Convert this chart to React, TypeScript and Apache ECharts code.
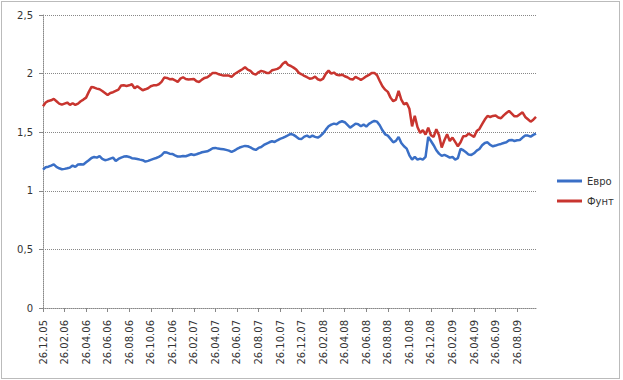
import React, { useEffect, useRef } from "react";
import * as echarts from "echarts";

// Axis tick labels (every 8th category)
const tickLabels: string[] = [
  "26.12.05", "26.02.06", "26.04.06", "26.06.06", "26.08.06", "26.10.06",
  "26.12.06", "26.02.07", "26.04.07", "26.06.07", "26.08.07", "26.10.07",
  "26.12.07", "26.02.08", "26.04.08", "26.06.08", "26.08.08", "26.10.08",
  "26.12.08", "26.02.09", "26.04.09", "26.06.09", "26.08.09",
];

const seriesNames: string[] = ["Евро", "Фунт"];
const yTicks: number[] = [0, 0.5, 1, 1.5, 2, 2.5];

const euro: number[] = [
  1.181, 1.201, 1.206, 1.215, 1.226, 1.204, 1.192, 1.184, 1.187, 1.192, 1.198, 1.215,
  1.204, 1.224, 1.226, 1.224, 1.243, 1.261, 1.280, 1.289, 1.283, 1.295, 1.272, 1.261,
  1.266, 1.275, 1.283, 1.255, 1.272, 1.283, 1.292, 1.295, 1.289, 1.278, 1.275, 1.272,
  1.266, 1.261, 1.249, 1.255, 1.264, 1.272, 1.280, 1.289, 1.303, 1.329, 1.326, 1.317,
  1.315, 1.303, 1.292, 1.292, 1.297, 1.295, 1.303, 1.312, 1.306, 1.312, 1.320, 1.329,
  1.334, 1.337, 1.349, 1.363, 1.366, 1.360, 1.357, 1.354, 1.349, 1.343, 1.332, 1.343,
  1.357, 1.369, 1.377, 1.383, 1.380, 1.371, 1.357, 1.349, 1.366, 1.374, 1.391, 1.403,
  1.414, 1.423, 1.417, 1.431, 1.443, 1.451, 1.462, 1.474, 1.485, 1.477,
  1.462, 1.445, 1.443, 1.462, 1.471, 1.457, 1.471, 1.460, 1.454, 1.468, 1.491, 1.522,
  1.551, 1.565, 1.573, 1.568, 1.585, 1.593, 1.585, 1.562, 1.539, 1.556, 1.573, 1.568,
  1.551, 1.565, 1.548, 1.571, 1.585, 1.596, 1.590, 1.559, 1.516, 1.482, 1.471, 1.443,
  1.414, 1.426, 1.460, 1.408, 1.380, 1.360, 1.303, 1.266, 1.289, 1.266, 1.275,
  1.266, 1.289, 1.460, 1.425, 1.389, 1.346, 1.317, 1.298, 1.306, 1.295, 1.283, 1.289,
  1.266, 1.278, 1.357, 1.346, 1.329, 1.309, 1.306, 1.320, 1.343, 1.357, 1.389, 1.408,
  1.414, 1.391, 1.380, 1.386, 1.394, 1.400, 1.408, 1.414, 1.431, 1.434, 1.425, 1.431,
  1.434, 1.454, 1.471, 1.471, 1.462, 1.477, 1.488,
];

const pound: number[] = [
  1.721, 1.753, 1.767, 1.772, 1.784, 1.764, 1.744, 1.735, 1.744, 1.753, 1.733, 1.747,
  1.733, 1.744, 1.764, 1.778, 1.795, 1.844, 1.886, 1.881, 1.872, 1.866, 1.852, 1.835,
  1.818, 1.835, 1.841, 1.852, 1.863, 1.898, 1.900, 1.895, 1.900, 1.909, 1.875, 1.892,
  1.875, 1.858, 1.866, 1.875, 1.892, 1.900, 1.900, 1.909, 1.929, 1.966, 1.963, 1.952,
  1.954, 1.943, 1.929, 1.957, 1.969, 1.954, 1.949, 1.952, 1.954, 1.935, 1.929, 1.949,
  1.963, 1.969, 1.986, 2.006, 2.006, 1.997, 1.989, 1.983, 1.983, 1.983, 1.972, 1.994,
  2.009, 2.023, 2.037, 2.054, 2.034, 2.023, 2.000, 1.991, 2.011, 2.023, 2.017, 2.006,
  2.006, 2.028, 2.034, 2.040, 2.054, 2.085, 2.102, 2.074, 2.065, 2.051,
  2.034, 2.006, 1.994, 1.980, 1.969, 1.957, 1.960, 1.974, 1.952, 1.943, 1.957, 2.000,
  2.026, 2.000, 2.009, 1.991, 1.986, 1.991, 1.977, 1.969, 1.954, 1.949, 1.972, 1.960,
  1.946, 1.960, 1.977, 1.989, 2.006, 2.006, 1.986, 1.937, 1.892, 1.863, 1.844, 1.795,
  1.764, 1.778, 1.852, 1.778, 1.738, 1.750, 1.700, 1.550, 1.640, 1.545, 1.494,
  1.517, 1.480, 1.539, 1.474, 1.460, 1.525, 1.474, 1.369, 1.431, 1.482, 1.425, 1.454,
  1.417, 1.380, 1.414, 1.465, 1.468, 1.488, 1.474, 1.460, 1.511, 1.528, 1.568, 1.608,
  1.639, 1.630, 1.639, 1.642, 1.625, 1.619, 1.644, 1.664, 1.681, 1.659, 1.636, 1.636,
  1.653, 1.670, 1.630, 1.610, 1.590, 1.607, 1.630,
];

const pad = (n: number) => String(n).padStart(2, "0");
// Dates: the 26th of every month plus three intermediate weekly dates
const categories: string[] = [];
for (let m = 0; m < 46; m++) {
  const m0 = 11 + m;
  categories.push(`26.${pad((m0 % 12) + 1)}.${pad((2005 + Math.floor(m0 / 12)) % 100)}`);
  const m1 = m0 + 1;
  for (const d of ["03", "11", "18"]) {
    categories.push(`${d}.${pad((m1 % 12) + 1)}.${pad((2005 + Math.floor(m1 / 12)) % 100)}`);
  }
}

const FONT = "DejaVu Sans";

export default function App() {
  const ref = useRef<HTMLDivElement>(null);
  useEffect(() => {
    if (!ref.current) return;
    const chart = echarts.init(ref.current, null, { renderer: "svg" });
    chart.setOption({
      animation: false,
      backgroundColor: "#ffffff",
      grid: { left: 43, right: 87, top: 15, bottom: 72, containLabel: false },
      legend: {
        orient: "vertical",
        left: 552,
        top: 171,
        itemWidth: 25,
        itemHeight: 3,
        itemGap: 10,
        icon: "rect",
        data: seriesNames,
        textStyle: { fontFamily: FONT, fontSize: 10, color: "#333" },
      },
      xAxis: {
        type: "category",
        data: categories,
        boundaryGap: false,
        axisLine: { show: true, lineStyle: { color: "#888", type: [1, 1], width: 1 } },
        axisTick: { show: true, interval: 7, length: 4, lineStyle: { color: "#888" } },
        axisLabel: {
          interval: 7,
          rotate: 90,
          margin: 12,
          fontFamily: FONT,
          fontSize: 10,
          color: "#333",
          formatter: (v: string) => (tickLabels.includes(v) ? v : v),
        },
        splitLine: { show: false },
      },
      yAxis: {
        type: "value",
        min: yTicks[0],
        max: yTicks[yTicks.length - 1],
        interval: 0.5,
        axisLine: { show: true, lineStyle: { color: "#888", type: [1, 1], width: 1 } },
        axisTick: { show: true, length: 4, lineStyle: { color: "#888" } },
        axisLabel: {
          margin: 10,
          fontFamily: FONT,
          fontSize: 10,
          color: "#333",
          formatter: (v: number) => String(v).replace(".", ","),
        },
        splitLine: { show: true, lineStyle: { color: "#888", type: [1, 1], width: 1 } },
      },
      series: [
        {
          name: seriesNames[0],
          type: "line",
          data: euro,
          showSymbol: false,
          color: "#3A6FC6",
          lineStyle: { width: 2.5, color: "#3A6FC6" },
        },
        {
          name: seriesNames[1],
          type: "line",
          data: pound,
          showSymbol: false,
          color: "#C8352F",
          lineStyle: { width: 2.5, color: "#C8352F" },
        },
      ],
      graphic: [
        {
          type: "rect",
          silent: true,
          shape: { x: 1.5, y: 1.5, width: 618, height: 377 },
          style: { fill: "none", stroke: "#777", lineWidth: 1, lineDash: [1, 1] },
        },
      ],
    });
    return () => chart.dispose();
  }, []);
  return (
    <div
      ref={ref}
      style={{ position: "fixed", left: 0, top: 0, width: 623, height: 380, background: "#fff" }}
    />
  );
}
